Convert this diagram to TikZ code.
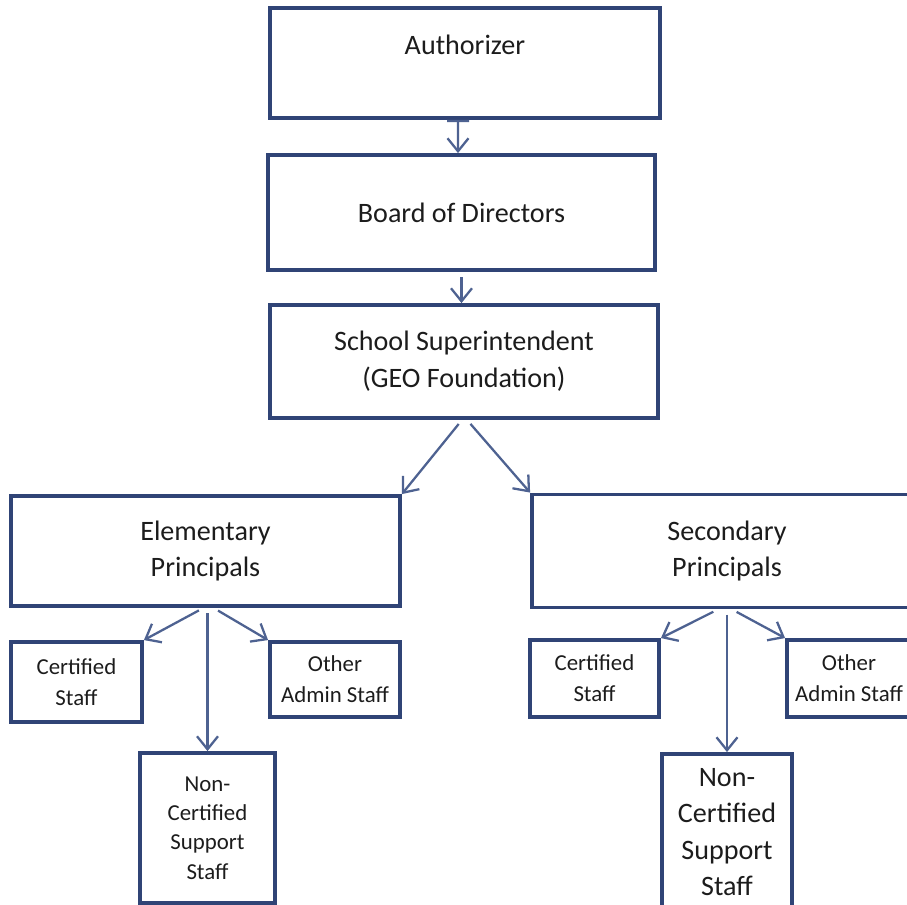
\documentclass[tikz,border=0pt]{standalone}
\usepackage{fontspec}
\setmainfont{Carlito}
\usepackage{xcolor}
\definecolor{boxblue}{RGB}{48,68,118}
\definecolor{linkblue}{RGB}{78,98,145}
\definecolor{inkgray}{RGB}{28,28,28}
\usepackage{tikz}
\usetikzlibrary{
  arrows.meta,
  positioning,
  calc
}

\begin{document}
\begin{tikzpicture}[x=0.02cm, y=-0.02cm,
  unit/.style={draw=boxblue, line width=2.2pt, rectangle, align=center,
    text=inkgray, font=\fontsize{16}{21}\selectfont, inner sep=0pt},
  staff/.style={unit, font=\fontsize{13}{17.5}\selectfont},
  link/.style={draw=linkblue, line width=1.3pt, shorten <=3pt,
    -{Straight Barb[length=2.6mm, width=4.2mm]}}
]
  \useasboundingbox (0,0) rectangle (907,905);
  % Top chain
  \node[unit, minimum width=7.8cm, minimum height=2.2cm, text height=0.4cm, text depth=0.72cm]
    (auth) at (465,63) {Authorizer};
  \node[unit, minimum width=7.74cm, minimum height=2.3cm] (board) at (461.5,212.5) {Board of Directors};
  \node[unit, minimum width=7.76cm, minimum height=2.26cm] (supt) at (464,361.5)
    {School Superintendent\\(GEO Foundation)};
  % Principals
  \node[unit, minimum width=7.78cm, minimum height=2.2cm] (elem) at (205.5,551) {Elementary\\Principals};
  \node[unit, minimum width=7.8cm, minimum height=2.26cm] (sec) at (727,551) {Secondary\\Principals};
  % Elementary staff
  \node[staff, minimum width=2.62cm, minimum height=1.6cm] (certL) at (76.5,682) {Certified\\Staff};
  \node[staff, minimum width=2.6cm, minimum height=1.5cm] (otherL) at (335,679.5) {Other\\Admin Staff};
  \node[staff, font=\fontsize{13}{16.7}\selectfont, minimum width=2.7cm, minimum height=3cm]
    (noncL) at (207.5,828) {Non-\\Certified\\Support\\Staff};
  % Secondary staff
  \node[staff, minimum width=2.58cm, minimum height=1.54cm] (certR) at (594.5,678.5) {Certified\\Staff};
  \node[staff, minimum width=2.48cm, minimum height=1.54cm] (otherR) at (849,678.5) {Other\\Admin Staff};
  \node[unit, font=\fontsize{16}{20.7}\selectfont, minimum width=2.6cm, minimum height=3.12cm]
    (noncR) at (727,832) {Non-\\Certified\\Support\\Staff};
  % Connectors
  \draw[link, {Bar[width=4.4mm]}-{Straight Barb[length=2.6mm, width=4.2mm]}, shorten <=0pt]
    ([xshift=-0.14cm]auth.south) -- ([xshift=-0.07cm]board.north);
  \draw[link] (board.south) -- (board.south |- supt.north);
  \draw[link] ([xshift=-0.04cm]supt.south) -- (elem.north east);
  \draw[link] ([xshift=0.06cm]supt.south) -- (sec.north west);
  \draw[link] ([xshift=-0.04cm]elem.south) -- (certL.north east);
  \draw[link] ([xshift=0.16cm]elem.south) -- (otherL.north west);
  \draw[link] (elem.south -| noncL.north) -- (noncL.north);
  \draw[link] ([xshift=-0.18cm]sec.south) -- (certR.north east);
  \draw[link] ([xshift=0.1cm]sec.south) -- (otherR.north west);
  \draw[link] (sec.south) -- (noncR.north);
\end{tikzpicture}
\end{document}
